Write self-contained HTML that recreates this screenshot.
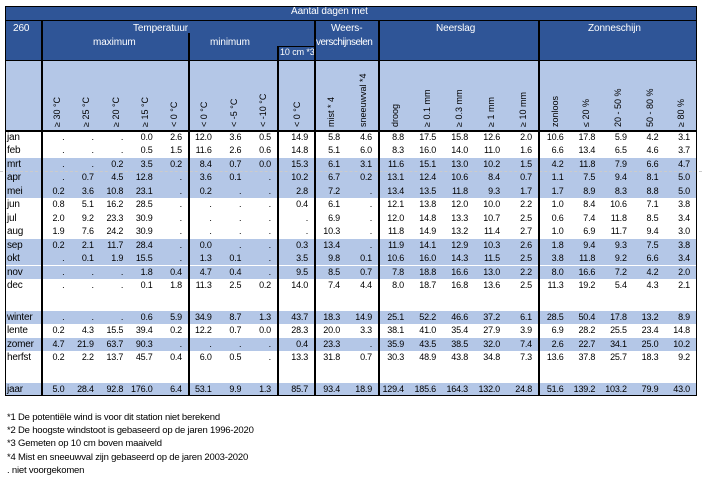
<!DOCTYPE html>
<html><head><meta charset="utf-8">
<style>
body{margin:0;background:#fff;width:702px;height:479px;overflow:hidden;position:relative;font-family:"Liberation Sans",sans-serif;}
.a{position:absolute;white-space:nowrap;}
.t{font-size:9px;letter-spacing:-0.2px;color:#000;line-height:13px;}
.w{color:#fff;font-size:10px;letter-spacing:-0.1px;}
.rot{transform-origin:left top;transform:rotate(-90deg);font-size:9px;}
</style></head><body>
<div id="tbl"></div>
<div class="a t" style="left:7px;top:411px;font-size:9.5px">*1 De potentiële wind is voor dit station niet berekend</div>
<div class="a t" style="left:7px;top:424px;font-size:9.5px">*2 De hoogste windstoot is gebaseerd op de jaren 1996-2020</div>
<div class="a t" style="left:7px;top:437px;font-size:9.5px">*3 Gemeten op 10 cm boven maaiveld</div>
<div class="a t" style="left:7px;top:451px;font-size:9.5px">*4 Mist en sneeuwval zijn gebaseerd op de jaren 2003-2020</div>
<div class="a t" style="left:7px;top:464px;font-size:9.5px">. niet voorgekomen</div>
<script>
const colLabels=["≥ 30 °C","≥ 25 °C","≥ 20 °C","≥ 15 °C","< 0 °C","< 0 °C","< -5 °C","< -10 °C","< 0 °C","mist * 4","sneeuwval *4","droog","≥ 0.1 mm","≥ 0.3 mm","≥ 1 mm","≥ 10 mm","zonloos","≤ 20 %","20 - 50 %","50 - 80 %","≥ 80 %"];
const rowNames=["jan","feb","mrt","apr","mei","jun","jul","aug","sep","okt","nov","dec","winter","lente","zomer","herfst","jaar"];
const rowShaded=[0,0,1,1,1,0,0,0,1,1,1,0,1,0,1,0,1];
const rowValues=[
". . . 0.0 2.6 12.0 3.6 0.5 14.9 5.8 4.6 8.8 17.5 15.8 12.6 2.0 10.6 17.8 5.9 4.2 3.1",
". . . 0.5 1.5 11.6 2.6 0.6 14.8 5.1 6.0 8.3 16.0 14.0 11.0 1.6 6.6 13.4 6.5 4.6 3.7",
". . 0.2 3.5 0.2 8.4 0.7 0.0 15.3 6.1 3.1 11.6 15.1 13.0 10.2 1.5 4.2 11.8 7.9 6.6 4.7",
". 0.7 4.5 12.8 . 3.6 0.1 . 10.2 6.7 0.2 13.1 12.4 10.6 8.4 0.7 1.1 7.5 9.4 8.1 5.0",
"0.2 3.6 10.8 23.1 . 0.2 . . 2.8 7.2 . 13.4 13.5 11.8 9.3 1.7 1.7 8.9 8.3 8.8 5.0",
"0.8 5.1 16.2 28.5 . . . . 0.4 6.1 . 12.1 13.8 12.0 10.0 2.2 1.0 8.4 10.6 7.1 3.8",
"2.0 9.2 23.3 30.9 . . . . . 6.9 . 12.0 14.8 13.3 10.7 2.5 0.6 7.4 11.8 8.5 3.4",
"1.9 7.6 24.2 30.9 . . . . . 10.3 . 11.8 14.9 13.2 11.4 2.7 1.0 6.9 11.7 9.4 3.0",
"0.2 2.1 11.7 28.4 . 0.0 . . 0.3 13.4 . 11.9 14.1 12.9 10.3 2.6 1.8 9.4 9.3 7.5 3.8",
". 0.1 1.9 15.5 . 1.3 0.1 . 3.5 9.8 0.1 10.6 16.0 14.3 11.5 2.5 3.8 11.8 9.2 6.6 3.4",
". . . 1.8 0.4 4.7 0.4 . 9.5 8.5 0.7 7.8 18.8 16.6 13.0 2.2 8.0 16.6 7.2 4.2 2.0",
". . . 0.1 1.8 11.3 2.5 0.2 14.0 7.4 4.4 8.0 18.7 16.8 13.6 2.5 11.3 19.2 5.4 4.3 2.1",
". . . 0.6 5.9 34.9 8.7 1.3 43.7 18.3 14.9 25.1 52.2 46.6 37.2 6.1 28.5 50.4 17.8 13.2 8.9",
"0.2 4.3 15.5 39.4 0.2 12.2 0.7 0.0 28.3 20.0 3.3 38.1 41.0 35.4 27.9 3.9 6.9 28.2 25.5 23.4 14.8",
"4.7 21.9 63.7 90.3 . . . . 0.4 23.3 . 35.9 43.5 38.5 32.0 7.4 2.6 22.7 34.1 25.0 10.2",
"0.2 2.2 13.7 45.7 0.4 6.0 0.5 . 13.3 31.8 0.7 30.3 48.9 43.8 34.8 7.3 13.6 37.8 25.7 18.3 9.2",
"5.0 28.4 92.8 176.0 6.4 53.1 9.9 1.3 85.7 93.4 18.9 129.4 185.6 164.3 132.0 24.8 51.6 139.2 103.2 79.9 43.0"];
const T=document.getElementById('tbl');
function box(name,l,t,w,h,bg,html,cls){const d=document.createElement('div');d.className='a '+(cls||'');


d.style.cssText=`left:${l}px;top:${t}px;width:${w}px;height:${h}px;`+(bg?`background:${bg};`:'');if(html!=null)d.textContent=html;T.appendChild(d);return d;}
const edges=[42];
function addCols(n,end){const s=edges[edges.length-1];for(let i=1;i<=n;i++)edges.push(s+(end-s)*i/n);}
addCols(5,189);addCols(3,278);addCols(1,315);addCols(2,379);addCols(5,539);addCols(5,697);
const DB='#2f5597',LB='#b4c7e7';
box('title-bar',5,6,692,14,DB);
box('header-band',5,20,692,40,DB);
box('subheader-band',5,61,692,69,LB);
function rowTop(i){return i<12?131+i*13.45:(i<16?311+(i-12)*13.45:383);}
rowNames.forEach((n,i)=>{const y=rowTop(i);
 if(rowShaded[i])box('row-shade-'+n,5,y,692,13.4,LB);
 const l=box('row-label-'+n,7,y,34,13,null,n,'t');l.style.fontSize='10px';
 rowValues[i].split(' ').forEach((v,j)=>{const c=box('cell-'+n+'-'+j,edges[j],y,edges[j+1]-edges[j]-7,13,null,v,'t');c.style.textAlign='right';});
});
const dl=box('dashed-separator',0,171,702,0,null);dl.style.borderTop='1px dashed #ccc';
const w=(name,txt,x,y)=>{const d=box(name,x,y,0,14,null,txt,'w');return d;};
w('title-text','Aantal dagen met',291,6);
w('station-number','260',13,23);
w('temperatuur-title','Temperatuur',133,23);
w('maximum-title','maximum',93,37);
w('minimum-title','minimum',210,37);
const c10=w('ten-cm-title','10 cm *3',280,47);c10.style.fontSize='9px';
w('weers-title','Weers-',331,23);
const vs=w('verschijnselen-title','verschijnselen',316,37);vs.style.letterSpacing='-0.5px';
w('neerslag-title','Neerslag',436,23);
w('zonneschijn-title','Zonneschijn',588,23);
colLabels.forEach((s,j)=>{const cx=(edges[j]+edges[j+1])/2;const d=box('col-header-'+j,cx-5,127,80,11,null,s,'rot');d.style.lineHeight='11px';});
function ln(name,l,t,w,h){const d=box(name,l,t,w,h,'#000');}
ln('border-top',5,6,692,1);ln('border-left',5,6,1,390);ln('border-right',696,6,1,390);
ln('line-header',5,60,692,1);ln('line-subheader',5,130,692,1.5);ln('border-bottom',5,395,692,1);
ln('line-title',5,20,692,1);
ln('vline-station',41,20,2,376);ln('vline-max-min',188,33,2,363);ln('vline-min-10cm',277,46,2,350);
ln('hline-10cm',278,46,37,1);ln('vline-10cm-weers',314,20,2,376);ln('vline-weers-neerslag',378,20,2,376);ln('vline-neerslag-zon',538,20,2,376);
</script>
</body></html>
